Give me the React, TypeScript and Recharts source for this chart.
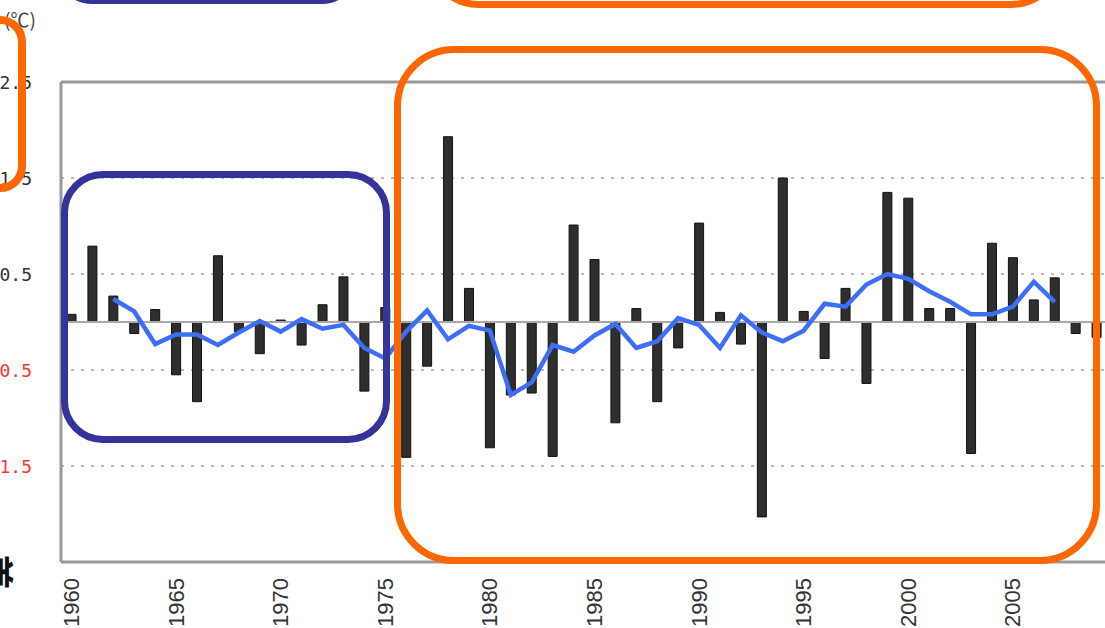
import {
  ComposedChart,
  Bar,
  Line,
  XAxis,
  YAxis,
  CartesianGrid,
  ReferenceLine,
} from "recharts";

// years shown on the x axis
const YEARS = [
  1960, 1961, 1962, 1963, 1964, 1965, 1966, 1967, 1968, 1969,
  1970, 1971, 1972, 1973, 1974, 1975, 1976, 1977, 1978, 1979,
  1980, 1981, 1982, 1983, 1984, 1985, 1986, 1987, 1988, 1989,
  1990, 1991, 1992, 1993, 1994, 1995, 1996, 1997, 1998, 1999,
  2000, 2001, 2002, 2003, 2004, 2005, 2006, 2007, 2008, 2009,
];

// yearly anomaly (℃)
const ANOMALY = [
  0.08, 0.79, 0.27, -0.12, 0.13, -0.55, -0.83, 0.69, -0.1, -0.33,
  0.02, -0.24, 0.18, 0.47, -0.72, 0.15, -1.41, -0.46, 1.93, 0.35,
  -1.31, -0.76, -0.74, -1.4, 1.01, 0.65, -1.05, 0.14, -0.83, -0.27,
  1.03, 0.1, -0.23, -2.03, 1.5, 0.11, -0.38, 0.35, -0.64, 1.35,
  1.29, 0.14, 0.14, -1.37, 0.82, 0.67, 0.23, 0.46, -0.12, -0.16,
];

// 5-year running mean (blue line)
const RUNNING_MEAN = [
  null, null, 0.24, 0.11, -0.23, -0.13, -0.13, -0.24, -0.11, 0.01,
  -0.1, 0.03, -0.07, -0.03, -0.27, -0.38, -0.1, 0.12, -0.18, -0.04,
  -0.09, -0.76, -0.63, -0.24, -0.31, -0.14, -0.02, -0.27, -0.2, 0.04,
  -0.03, -0.27, 0.07, -0.11, -0.2, -0.09, 0.19, 0.16, 0.39, 0.5,
  0.45, 0.32, 0.21, 0.08, 0.08, 0.16, 0.42, 0.21, null, null,
];

const Y_TICKS = [-1.5, -0.5, 0.5, 1.5, 2.5];

const data = YEARS.map((year, i) => ({
  year,
  anomaly: ANOMALY[i],
  mean: RUNNING_MEAN[i],
}));

function YTick({ x, y, payload }: any) {
  const v = payload.value as number;
  return (
    <text
      x={x}
      y={y}
      textAnchor="end"
      dominantBaseline="central"
      fontFamily="'DejaVu Sans Mono', monospace"
      fontSize={18}
      fill={v < 0 ? "#ff3333" : "#333333"}
    >
      {v.toFixed(1)}
    </text>
  );
}

function XTick({ x, y, payload }: any) {
  return (
    <text
      x={x}
      y={y}
      transform={`rotate(-90, ${x}, ${y})`}
      textAnchor="end"
      dominantBaseline="central"
      fontFamily="'Liberation Sans Narrow', 'Liberation Sans', Arial, sans-serif"
      fontSize={22}
      fill="#333333"
    >
      {payload.value}
    </text>
  );
}

const box = (s: React.CSSProperties): React.CSSProperties => ({
  position: "absolute",
  boxSizing: "border-box",
  background: "transparent",
  ...s,
});

export default function App() {
  return (
    <div
      style={{
        position: "fixed",
        left: 0,
        top: 0,
        width: 1105,
        height: 628,
        overflow: "hidden",
        background: "#fff",
        fontFamily: "'Noto Sans CJK JP', sans-serif",
      }}
    >
      <div
        style={{
          position: "absolute",
          left: 4,
          top: 5,
          fontSize: 19,
          lineHeight: "28px",
          color: "#444",
        }}
      >
        (℃)
      </div>

      <div style={{ position: "absolute", left: 0, top: 0 }}>
        <ComposedChart
          width={1117}
          height={628}
          data={data}
          margin={{ top: 82, right: 10, left: 0, bottom: 6 }}
          barCategoryGap={0}
        >
          <CartesianGrid
            vertical={false}
            stroke="#bbbbbb"
            strokeWidth={2}
            strokeDasharray="3 7"
          />
          <XAxis
            dataKey="year"
            interval={4}
            height={60}
            tickLine={false}
            axisLine={{ stroke: "#999999", strokeWidth: 3 }}
            tickMargin={10}
            tick={<XTick />}
          />
          <YAxis
            type="number"
            domain={[-2.5, 2.5]}
            ticks={Y_TICKS}
            width={61}
            tickLine={false}
            tickMargin={23}
            axisLine={{ stroke: "#999999", strokeWidth: 3 }}
            tick={<YTick />}
          />
          <ReferenceLine y={2.5} stroke="#999999" strokeWidth={3} />
          <ReferenceLine y={0} stroke="#aaaaaa" strokeWidth={2} />
          <Bar
            dataKey="anomaly"
            barSize={9}
            fill="#2e2e2e"
            stroke="#111111"
            strokeWidth={1}
            isAnimationActive={false}
          />
          <Line
            dataKey="mean"
            type="linear"
            stroke="#3d6ef7"
            strokeWidth={4.5}
            dot={false}
            isAnimationActive={false}
          />
        </ComposedChart>
      </div>

      {/* annotation frames drawn over the chart */}
      <div
        style={box({
          left: 61,
          top: 171,
          width: 329,
          height: 272,
          border: "7px solid #333399",
          borderRadius: 42,
        })}
      />
      <div
        style={box({
          left: 394,
          top: 46,
          width: 706,
          height: 518,
          border: "7px solid #ff6600",
          borderRadius: 60,
        })}
      />
      <div
        style={box({
          left: -60,
          top: 16,
          width: 86,
          height: 176,
          border: "8px solid #ff6600",
          borderRadius: 26,
        })}
      />
      <div
        style={box({
          left: 56,
          top: -100,
          width: 302,
          height: 104,
          border: "7px solid #333399",
          borderRadius: 36,
        })}
      />
      <div
        style={box({
          left: 425,
          top: -100,
          width: 640,
          height: 108,
          border: "7px solid #ff6600",
          borderRadius: 60,
        })}
      />
      <div
        style={{
          position: "absolute",
          left: -22,
          top: 548,
          fontSize: 38,
          lineHeight: "48px",
          fontWeight: 700,
          color: "#111",
          transform: "rotate(90deg)",
          transformOrigin: "center",
        }}
      >
        差
      </div>
    </div>
  );
}
